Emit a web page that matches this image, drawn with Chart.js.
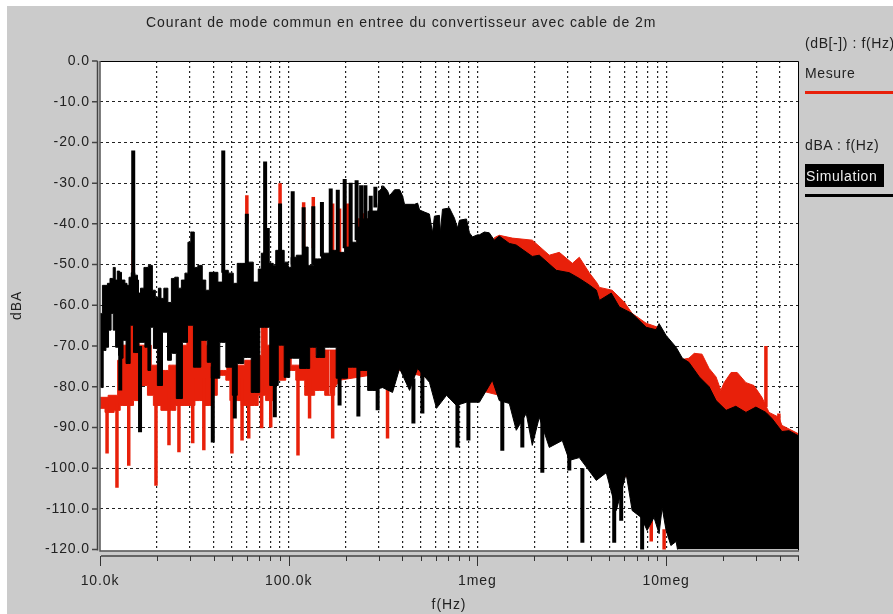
<!DOCTYPE html>
<html><head><meta charset="utf-8">
<style>
html,body{margin:0;padding:0;background:#fff;width:893px;height:614px;overflow:hidden}
#panel{position:absolute;left:7px;top:6px;width:886px;height:608px;background:#cbcbcb}
canvas{position:absolute;left:0;top:0}
.t{position:absolute;font:14px "Liberation Sans",Arial,sans-serif;color:#222;white-space:nowrap;letter-spacing:.6px}
#title{left:146px;top:14px;letter-spacing:.93px}
.ln{position:absolute;left:805px;width:88px;height:3px}
#sim{left:805px;top:164px;width:79px;height:23px;background:#000;color:#eee;line-height:24px;box-sizing:border-box;padding-left:1px}
</style>
<script src="https://cdn.jsdelivr.net/npm/chart.js@4/dist/chart.umd.min.js"></script>
</head><body>
<div id="panel"></div>
<canvas id="c" width="893" height="614"></canvas>
<div class="t" id="title">Courant de mode commun en entree du convertisseur avec cable de 2m</div>
<div class="t" style="left:805px;top:35px">(dB[-]) : f(Hz)</div>
<div class="t" style="left:805px;top:65px">Mesure</div>
<div class="ln" style="top:91px;background:#e8200a"></div>
<div class="t" style="left:805px;top:137px">dBA : f(Hz)</div>
<div class="t" id="sim">Simulation</div>
<div class="ln" style="top:194px;background:#000"></div>
<script>
const xTickHz=[1e4,2e4,3e4,4e4,5e4,6e4,7e4,8e4,9e4,1e5,2e5,3e5,4e5,5e5,6e5,7e5,8e5,9e5,1e6,2e6,3e6,4e6,5e6,6e6,7e6,8e6,9e6,1e7,2e7,3e7,4e7,5e7];
const xMajorHz=[1e4,1e5,1e6,1e7];
const xMajorLabels=['10.0k','100.0k','1meg','10meg'];

// Simulation (black): upper edge of the band
const blackTopKhz=[10,10.2,10.4,10.9,11,11.6,11.9,12.2,12.5,12.9,13.1,13.4,13.7,14.1,14.4,14.9,15.7,15.9,16.1,16.7,17.5,18.6,19.3,20,20.8,21.3,22.3,23.5,24.3,25.5,26.5,27.5,28.9,29.6,31,32.2,33.8,35.9,36.8,39.2,41.1,43.2,45.9,49.9,51.8,55,57.1,62.2,67.7,70.3,72.9,81.3,84.4,86.4,91.8,97.6,101,105,114.6,124.5,129,142,157,175,191,205,221,238,252,275,296,303,318,334,342,364,387,401,411,465,482,494,524,557,578,592,629,637,653,711,756,784,804,875,907,942,1000,1025,1088,1156,1229,1306,1476,1606,1954,2128,2618,3069,3467,3916,4270,4430,5120,5650,6600,7840,8850,9180,10000,11300,12200,13200,15000,16900,18400,20800,23400,26500,29900,33800,36400,41100,44800,50000];
const blackTopDb=[-62,-62,-55.1,-55.1,-54.6,-53.4,-50.7,-53.8,-51.6,-51.9,-53.8,-53.8,-54.6,-55.1,-53.1,-52,-52.6,-53.8,-57,-55.8,-50.7,-50.2,-56.3,-58,-55.8,-58.3,-55.8,-59.3,-53.4,-53.1,-55.8,-53.8,-52.1,-44.5,-42,-50.7,-50.2,-53.8,-56.3,-51.9,-51.9,-54.3,-51.4,-52.1,-54.6,-49.7,-49.7,-49.4,-54.3,-51.1,-47.2,-49.7,-50.2,-46.5,-46.5,-49.4,-50.7,-48.2,-47.7,-45.7,-50.2,-48.6,-47.2,-46.5,-47,-45.7,-44.5,-40.8,-38.8,-36.9,-36.9,-31.9,-30.7,-31.9,-33.1,-31.6,-31.6,-33.1,-35.2,-35.2,-34.9,-36.6,-37.1,-37.6,-42.2,-38.1,-37.9,-42.2,-36.4,-36.1,-38.6,-41,-39.1,-38.8,-42.2,-43.2,-42.7,-42.7,-42,-42.2,-44,-43,-44.8,-45.2,-48,-47.7,-51.4,-52,-53.4,-55,-56.3,-58.8,-57,-60.4,-62,-65.4,-66,-64.5,-67.4,-70.3,-73,-74,-77.6,-80,-83.4,-85.8,-84.8,-86.3,-85,-86.3,-87.8,-91,-90.8,-92];

// Simulation (black): lower edge of the band
const blackBottomKhz=[10,10.2,10.6,10.9,11.3,11.6,11.9,12.3,12.8,13.1,13.4,14.1,14.8,15.3,16.9,17.7,18.2,18.9,19.5,20.8,22.1,23.5,24.3,26.5,28.2,30,32.6,35.9,38.2,39.6,42.1,44.2,48.8,51.8,55,60.7,66,74.6,84.4,91.8,97.6,105,124.5,134,146,165,193,218,247,278,314,355,387,437,482,557,607,686,774,875,1025,1200,1306,1476,1607,1815,1954,2128,2404,2818,3069,3467,4266,4820,5445,6140,6607,7379,7932,8630,9180,9530,10000,10600,11300,11700,50000];
const blackBottomDb=[-80,-80.2,-71.1,-70.3,-66.1,-62,-66.1,-70.3,-72.3,-73,-68.6,-74.3,-64.9,-71.6,-69.1,-70.3,-76,-65.4,-70.6,-79.7,-66.6,-73.5,-71.8,-82.9,-69.1,-64.9,-75.2,-68.6,-74,-77.9,-77.9,-69.1,-75.2,-82.1,-74.3,-72.8,-81.4,-65.4,-79.7,-69.8,-77.7,-73,-75.5,-70.3,-72.8,-70.3,-77.9,-75.2,-76,-80.9,-80.2,-81.4,-75.5,-80.9,-75.5,-78.9,-85.3,-82.1,-84.6,-83.8,-83.8,-78.4,-83.4,-84.1,-90.7,-86.6,-94.4,-87.5,-94.9,-93.2,-98.1,-97.4,-103,-101.1,-110.4,-101.3,-110.4,-112.1,-115.3,-112.1,-116.1,-109.7,-115.3,-119,-118,-122,-122];

// Simulation (black): narrow peaks and notches
const blackSpikeKhz=[15,45,60,75,77.5,90,105,120,135,150,167,182,198,213,229,242,255,272,288,12.8,16.3,20.8,26.5,39.6,51.8,84.4,186,234,296,458,511,784,896,1355,1730,2208,3069,3600,5309,5781,7464];
const blackSpikeHigh=[-22,-22,-37.5,-24.7,-41,-35,-32,-35.9,-35.7,-34.6,-31.3,-31.6,-29,-29.9,-29.3,-30.5,-30.5,-33.1,-30.9,-70,-70,-72,-70,-75,-75,-72,-75,-75,-78,-78,-76,-80,-80,-82,-82,-86,-94,-100,-102,-104,-110];
const blackSpikeLow=[-55,-52,-52,-52,-52,-52,-50,-50,-50,-48,-48,-48,-46,-46,-44,-42,-40,-38,-36,-80.9,-91.2,-79.7,-82.9,-93.7,-87.8,-87.5,-84.6,-87.3,-85.8,-89,-86.6,-94.9,-93.2,-95.7,-94.9,-101.1,-100.6,-118.3,-118.3,-112.9,-121];

// Mesure (red): upper edge of the band
const redTopKhz=[10,12.2,12.6,13.4,14.8,15.5,16.7,17.9,19.5,20.8,22.3,24,25.8,27.8,30,32.6,35,38.2,40,41.6,45.3,48.8,55,62.2,68.6,74.6,79.2,86.4,91.8,98.8,107.6,114.6,122,132,146,165,907,1229,1306,1531,1954,2404,2716,3186,3467,3916,4319,4430,5176,6000,6607,7840,9180,10000,11300,12200,13200,14100,15500,16900,18400,19500,20300,22100,23800,26500,29200,32200,35100,39600,41100,50000];
const redTopDb=[-82.6,-82.1,-73.5,-69.8,-64.9,-66.1,-69.8,-69.8,-74.7,-77.2,-76,-74.7,-74.7,-69.8,-64.9,-71.1,-68.6,-69.8,-68.6,-76,-76,-74.7,-74.7,-73.5,-72.3,-64.9,-69.8,-69.8,-69.8,-69.8,-74.7,-74.7,-74.7,-69.8,-72.3,-71,-71,-43.4,-42.8,-43.5,-44,-47.7,-47,-49.7,-48.2,-52,-54.6,-55.6,-56.3,-59.2,-62,-64.4,-65.5,-68,-71,-73.3,-73,-71.8,-72,-75.5,-77.6,-80.9,-79,-76.5,-76.5,-79,-79.7,-82.6,-86.3,-87.5,-89.5,-91.5];

// Mesure (red): lower edge of the band
const redBottomKhz=[10,11.3,12.5,13.1,14.8,15.3,17.3,18.4,20,22.1,24,26.5,30,33.8,38.2,40.5,43.2,45.3,47.6,50,53.7,58.5,66,71.9,79.2,89.7,103.7,114.6,129,146,165,186,387,1306,2716,4430,11700,50000];
const redBottomDb=[-85.3,-86.3,-85.8,-84.6,-84.6,-83.4,-79.7,-82.1,-84.6,-85.8,-85.8,-84.6,-84.6,-83.4,-84.6,-82.1,-77.2,-77.2,-78.4,-83.4,-83.4,-84.6,-84.6,-82.1,-83.4,-78.4,-76,-78.4,-82.1,-80.9,-82.1,-78.4,-76,-82.1,-88.3,-98,-110,-110];

// Mesure (red): narrow peaks and notches
const redSpikeKhz=[15,60,75,90,120,135,155,171,186,205,234,247,265,10.9,12.3,14.2,19.8,23.2,26.2,31,35.5,50,56.6,61.4,71.9,80.3,112,129,171,334,8340,9760,33800,39600];
const redSpikeHigh=[-46.5,-33,-47,-30,-34.7,-33.4,-49.5,-35,-36.2,-35,-38.6,-37.4,-38.6,-84,-84,-84,-84,-80,-80,-78,-78,-78,-78,-78,-78,-78,-78,-78,-80.4,-79.7,-107,-115,-70,-86.6];
const redSpikeLow=[-55,-40,-52,-40,-46,-46,-55,-50,-50,-50,-50,-50,-50,-96.4,-104.8,-99.4,-104.3,-94.4,-96.1,-93.9,-95.6,-96.4,-93.2,-92.7,-90.2,-90,-96.9,-87.8,-92.7,-92.7,-118,-121,-85,-92];

const RED='#e8200a', BLK='#000';
const SPLIT_KHZ=320;
const pts=(f,d,lo,hi)=>f.map((k,i)=>({x:k*1000,y:d[i],k})).filter(p=>p.k>=lo&&p.k<=hi);
const bars=(f,h,l)=>f.flatMap((k,i)=>[{x:k*1000,y:h[i]},{x:k*1000,y:l[i]},{x:k*1000,y:NaN}]);
const band=(label,f,d,c,ord,fill,lo,hi,stepped)=>({label,data:pts(f,d,lo,hi),borderColor:c,borderWidth:1,backgroundColor:c,stepped,tension:0,fill:fill?{target:'+1',above:c,below:c}:false,pointRadius:0,order:ord});
const spike=(label,f,h,l,c,w,ord)=>({label,data:bars(f,h,l),borderColor:c,borderWidth:w,borderCapStyle:'butt',fill:false,pointRadius:0,spanGaps:false,order:ord});

const frame={id:'frame',
 beforeDraw(ch){const c=ch.ctx,a=ch.chartArea;c.letterSpacing='0.9px';c.save();c.fillStyle='#fff';c.fillRect(a.left,a.top,a.right-a.left,a.bottom-a.top+1);c.restore();},
 afterDraw(ch){const c=ch.ctx,a=ch.chartArea,sx=ch.scales.x,sy=ch.scales.y;c.save();
  c.strokeStyle='#000';c.lineWidth=1;c.beginPath();c.moveTo(a.left,a.top+.5);c.lineTo(a.right+.5,a.top+.5);c.lineTo(a.right+.5,a.bottom+1);c.stroke();
  c.strokeStyle='#555';c.lineWidth=1.5;c.beginPath();c.moveTo(100,a.top);c.lineTo(100,a.bottom+1.5);c.lineTo(a.right+1,a.bottom+1.5);c.stroke();
  c.strokeStyle='#444';c.lineWidth=1.5;c.beginPath();c.moveTo(97.5,a.top);c.lineTo(97.5,a.bottom+1);
  sy.ticks.forEach(t=>{const p=sy.getPixelForValue(t.value);c.moveTo(92,p);c.lineTo(97.5,p);});
  c.moveTo(101,556);c.lineTo(a.right+1,556);c.stroke();
  c.lineWidth=1;c.strokeStyle='#333';c.beginPath();
  sx.ticks.forEach(t=>{const p=Math.round(sx.getPixelForValue(t.value))+.5;c.moveTo(p,556);c.lineTo(p,xMajorHz.includes(t.value)?566:561);});
  c.stroke();c.restore();}
};

new Chart(document.getElementById('c'),{type:'line',
 data:{datasets:[
  spike('Simulation notches',blackSpikeKhz,blackSpikeHigh,blackSpikeLow,BLK,4,1),
  band('Simulation low f',blackTopKhz,blackTopDb,BLK,2,true,0,SPLIT_KHZ,'middle'),
  band('Simulation low f lower',blackBottomKhz,blackBottomDb,BLK,2.1,false,0,SPLIT_KHZ,'middle'),
  band('Simulation high f',blackTopKhz,blackTopDb,BLK,2.2,true,270,1e9,false),
  band('Simulation high f lower',blackBottomKhz,blackBottomDb,BLK,2.3,false,270,1e9,false),
  spike('Mesure notches',redSpikeKhz,redSpikeHigh,redSpikeLow,RED,3.5,3),
  band('Mesure low f',redTopKhz,redTopDb,RED,4,true,0,SPLIT_KHZ,'middle'),
  band('Mesure low f lower',redBottomKhz,redBottomDb,RED,4.1,false,0,SPLIT_KHZ,'middle'),
  band('Mesure high f',redTopKhz,redTopDb,RED,4.2,true,160,1e9,false),
  band('Mesure high f lower',redBottomKhz,redBottomDb,RED,4.3,false,160,1e9,false)
 ]},
 options:{responsive:false,animation:false,parsing:false,normalized:true,
  layout:{padding:{left:0,right:95,top:61,bottom:0}},
  plugins:{legend:{display:false},title:{display:false},tooltip:{enabled:false}},
  scales:{
   x:{type:'logarithmic',min:1e4,max:5e7,
    afterBuildTicks(s){s.ticks=xTickHz.map(v=>({value:v}));},
    afterFit(s){s.height=64.4;},
    grid:{color:ctx=>(ctx.tick&&ctx.tick.value>1e4&&ctx.tick.value<5e7)?'#222':'transparent',lineWidth:1.2,drawTicks:false},
    border:{display:false,dash:[2,3]},
    ticks:{autoSkip:false,maxRotation:0,minRotation:0,padding:23,color:'#222',font:{family:'"Liberation Sans"',size:14},
     callback(v){const i=xMajorHz.indexOf(v);return i>=0?xMajorLabels[i]:'';}},
    title:{display:true,text:'f(Hz)',color:'#222',font:{family:'"Liberation Sans"',size:14},padding:{top:0,bottom:0}}
   },
   y:{min:-120,max:0,
    afterFit(s){s.width=100;},
    grid:{color:ctx=>(ctx.tick&&ctx.tick.value>-120&&ctx.tick.value<0)?'#222':'transparent',lineWidth:1,drawTicks:false},
    border:{display:false,dash:[3,3]},
    ticks:{stepSize:10,padding:10,color:'#222',font:{family:'"Liberation Sans"',size:14},callback:v=>Number(v).toFixed(1)},
    title:{display:true,text:'dBA',color:'#222',font:{family:'"Liberation Sans"',size:14},padding:{top:9,bottom:0}}
   }
  }},
 plugins:[frame]});
</script>
</body></html>
